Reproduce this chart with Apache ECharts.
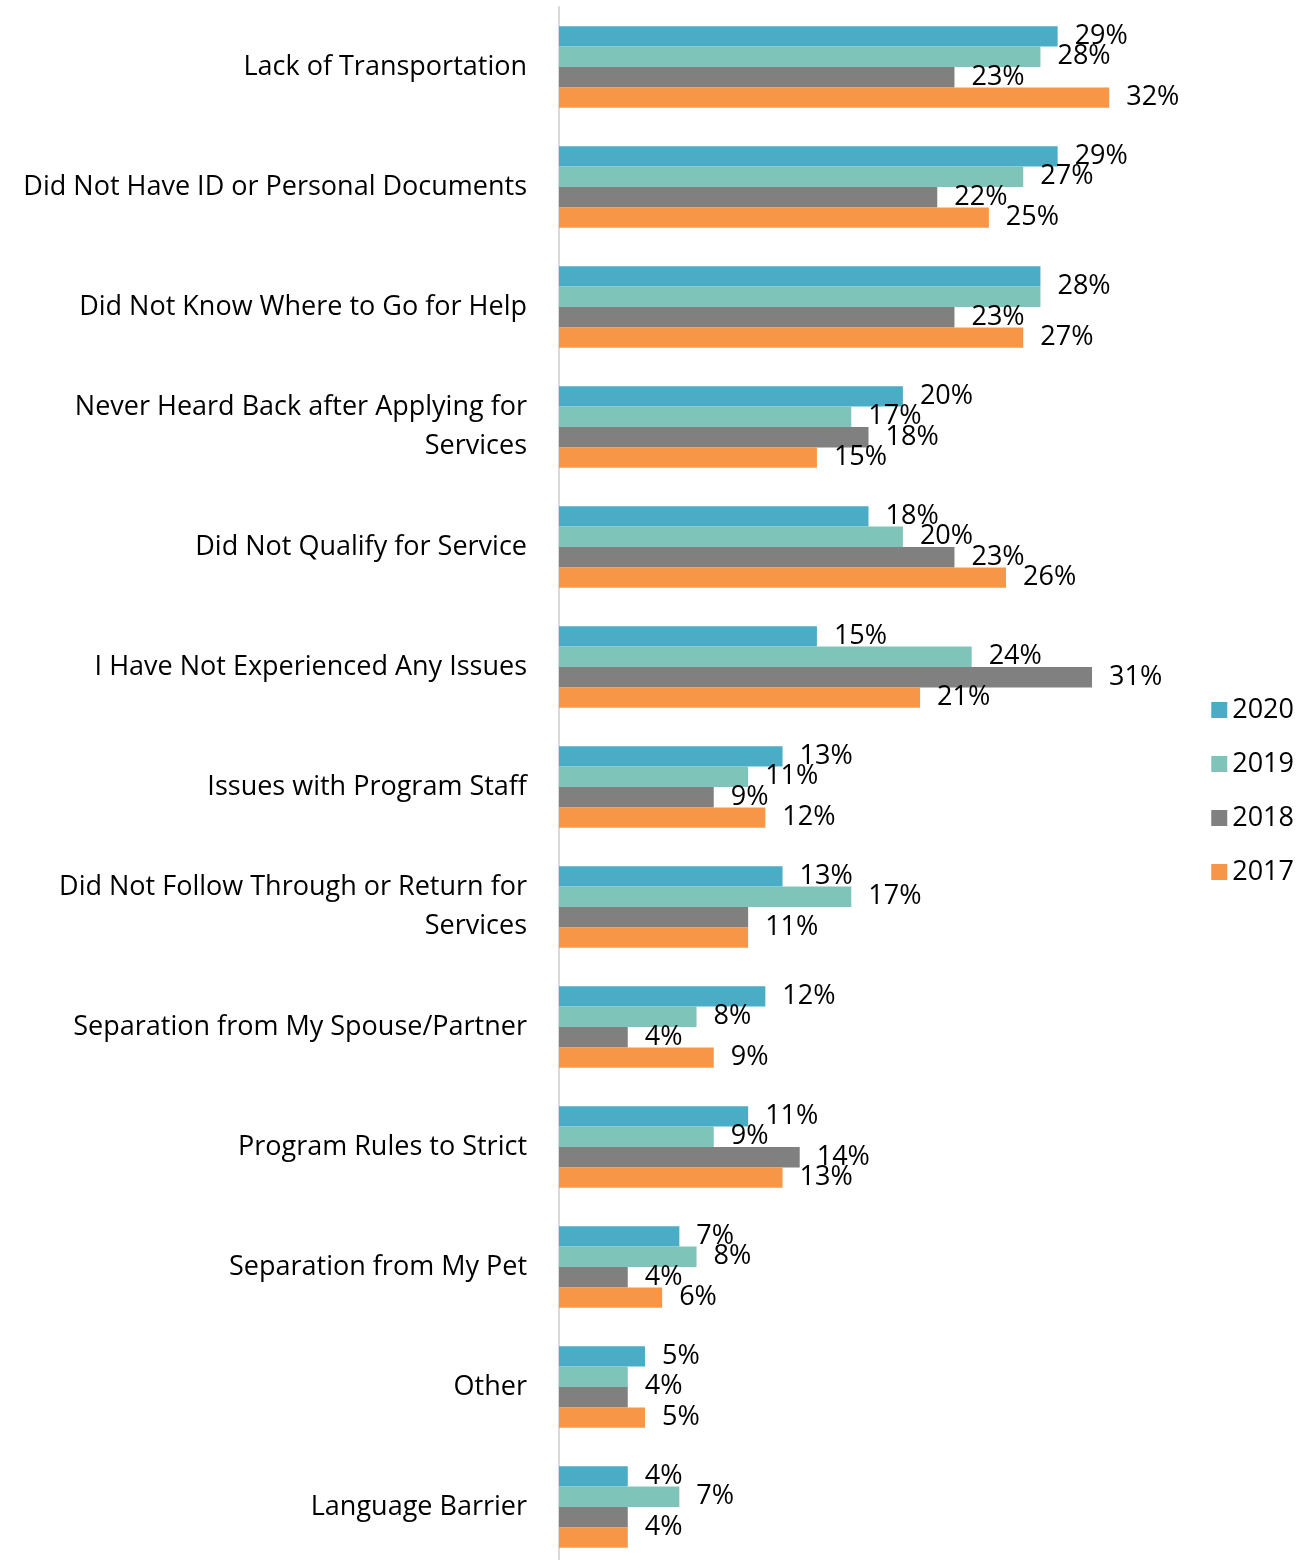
<!DOCTYPE html>
<html>
<head>
<meta charset="utf-8">
<script src="https://cdn.jsdelivr.net/npm/echarts@6/dist/echarts.min.js"></script>
<style>
  html, body { margin: 0; padding: 0; background: #fff; }
  #main { width: 1315px; height: 1560px; }
</style>
</head>
<body>
<div id="main"></div>
<script>
var categories = [
    'Lack of Transportation',
    'Did Not Have ID or Personal Documents',
    'Did Not Know Where to Go for Help',
    'Never Heard Back after Applying for\nServices',
    'Did Not Qualify for Service',
    'I Have Not Experienced Any Issues',
    'Issues with Program Staff',
    'Did Not Follow Through or Return for\nServices',
    'Separation from My Spouse/Partner',
    'Program Rules to Strict',
    'Separation from My Pet',
    'Other',
    'Language Barrier'
];
var years = ['2020', '2019', '2018', '2017'];
var v2020 = [29, 29, 28, 20, 18, 15, 13, 13, 12, 11, 7, 5, 4];
var v2019 = [28, 27, 28, 17, 20, 24, 11, 17, 8, 9, 8, 4, 7];
var v2018 = [23, 22, 23, 18, 23, 31, 9, 11, 4, 14, 4, 4, 4];
var v2017 = [32, 25, 27, 15, 26, 21, 12, 11, 9, 13, 6, 5, 4];
var colors = ['#4BACC6', '#7FC4B8', '#808080', '#F79646'];

var FONT = '"Open Sans", sans-serif';
var FS = 27;
var myChart = echarts.init(document.getElementById('main'));

var all = [v2020, v2019, v2018, v2017];

// equal neighbouring values share one label, drawn between the two bars
function makeSeries(name, i) {
    var data = all[i].map(function (v, k) {
        var item = { value: v };
        if (i > 0 && all[i - 1][k] === v) {
            item.label = { show: false };
        } else if (i < 3 && all[i + 1][k] === v) {
            item.label = { offset: [0, 10] };
        }
        return item;
    });
    return {
        name: name,
        type: 'bar',
        data: data,
        barGap: '0%',
        barCategoryGap: '32%',
        itemStyle: { color: colors[i] },
        label: {
            show: true,
            position: 'right',
            distance: 17,
            formatter: '{c}%',
            color: '#000',
            fontFamily: FONT,
            fontSize: FS
        }
    };
}

option = {
    animation: false,
    color: colors,
    legend: {
        data: years,
        orient: 'vertical',
        right: 16,
        top: 690,
        itemWidth: 16,
        itemHeight: 16,
        itemGap: 24,
        icon: 'rect',
        textStyle: { fontFamily: FONT, fontSize: FS, lineHeight: 30, color: '#000' }
    },
    grid: {
        left: 559,
        top: 7,
        width: 619,
        height: 1560,
        outerBoundsMode: 'none'
    },
    xAxis: {
        type: 'value',
        min: 0,
        max: 36,
        show: false
    },
    yAxis: {
        type: 'category',
        data: categories,
        inverse: true,
        axisLine: { show: true, lineStyle: { color: '#D9D9D9', width: 2 } },
        axisTick: { show: false },
        axisLabel: {
            margin: 32,
            color: '#000',
            fontFamily: FONT,
            fontSize: FS,
            lineHeight: 39,
            align: 'right'
        }
    },
    series: years.map(function (y, i) { return makeSeries(y, i); })
};

myChart.setOption(option);
</script>
</body>
</html>
